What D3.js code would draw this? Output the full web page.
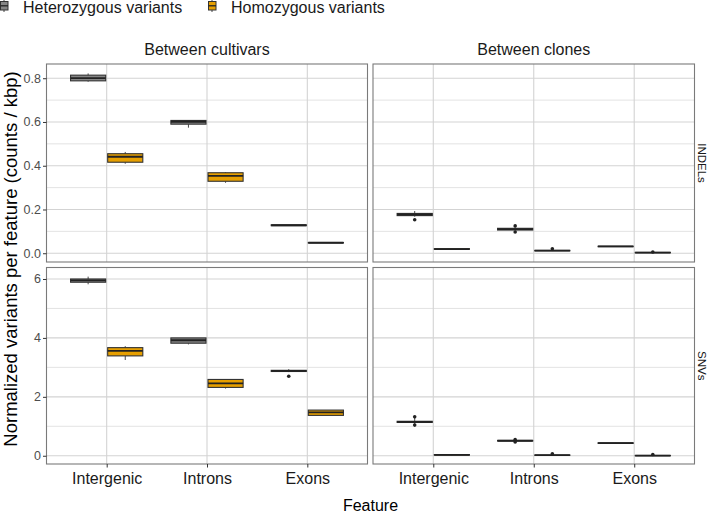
<!DOCTYPE html>
<html><head><meta charset="utf-8">
<script src="https://cdn.jsdelivr.net/npm/d3@7"></script>
<style>body{margin:0;background:#fff}svg{display:block;font-family:"Liberation Sans",Arial,Helvetica,sans-serif}</style>
</head><body><svg id="c" width="709" height="515"></svg>
<script>
const features = ["Intergenic", "Introns", "Exons"];
const comparisons = ["Between cultivars", "Between clones"];
const variantTypes = ["INDELs", "SNVs"];
const zygosity = ["Heterozygous variants", "Homozygous variants"];
const indelTicks = [0, 0.2, 0.4, 0.6, 0.8];
const snvTicks = [0, 2, 4, 6];

// [lower whisker, Q1, median, Q3, upper whisker] for each feature
const indelCultivarHet = [[0.784,0.788,0.800,0.814,0.822],[0.574,0.590,0.601,0.607,0.607],[0.126,0.126,0.128,0.130,0.130]];
const indelCultivarHom = [[0.409,0.416,0.441,0.455,0.463],[0.322,0.329,0.354,0.368,0.371],[0.047,0.047,0.048,0.049,0.049]];
const indelCloneHet = [[0.167,0.172,0.177,0.182,0.193],[0.104,0.106,0.110,0.114,0.118],[0.030,0.030,0.031,0.032,0.032]];
const indelCloneHom = [[0.017,0.018,0.019,0.021,0.022],[0.010,0.011,0.012,0.013,0.014],[0.002,0.002,0.003,0.004,0.004]];
const snvCultivarHet = [[5.82,5.89,5.95,6.00,6.08],[3.78,3.82,3.92,4.00,4.00],[2.84,2.86,2.88,2.90,2.94]];
const snvCultivarHom = [[3.25,3.39,3.56,3.67,3.72],[2.28,2.32,2.46,2.59,2.59],[1.37,1.37,1.47,1.55,1.55]];
const snvCloneHet = [[1.08,1.13,1.15,1.17,1.28],[0.48,0.50,0.51,0.52,0.54],[0.41,0.42,0.43,0.44,0.45]];
const snvCloneHom = [[0.01,0.02,0.03,0.04,0.04],[0.01,0.015,0.02,0.025,0.03],[0.0,0.0,0.005,0.01,0.015]];

// outlier points per feature
const indelCloneHetOut = [[0.153],[0.125,0.097],[]];
const indelCloneHomOut = [[],[0.020],[0.006]];
const snvCultivarHetOut = [[],[],[2.70]];
const snvCloneHetOut = [[1.32,1.04],[0.55,0.47],[]];
const snvCloneHomOut = [[],[0.07],[0.04]];
const none = [[],[],[]];

const fills = ["#858585", "#E69F00"];

const panels = [
  {row:0,col:0,stats:[indelCultivarHet,indelCultivarHom],out:[none,none]},
  {row:0,col:1,stats:[indelCloneHet,indelCloneHom],out:[indelCloneHetOut,indelCloneHomOut]},
  {row:1,col:0,stats:[snvCultivarHet,snvCultivarHom],out:[snvCultivarHetOut,none]},
  {row:1,col:1,stats:[snvCloneHet,snvCloneHom],out:[snvCloneHetOut,snvCloneHomOut]}
];

const svg = d3.select("#c");
const colX = [[46.5,367.5],[373,694.5]];
const rowY = [[64,262],[267.5,464]];
const yDomains = [[-0.040,0.865],[-0.28,6.39]];
const majorTicks = [indelTicks, snvTicks];
const minorTicks = [[0.1,0.3,0.5,0.7],[1,3,5]];
const fmt = [d3.format(".1f"), d3.format("d")];

const xScales = colX.map(r => d3.scalePoint().domain(features).range(r).padding(0.6));
const yScales = rowY.map((r,i) => d3.scaleLinear().domain(yDomains[i]).range([r[1], r[0]]));

// panels background + grid
for (let r=0;r<2;r++) for (let c=0;c<2;c++) {
  const x = xScales[c], y = yScales[r];
  const g = svg.append("g");
  g.append("rect").attr("x",colX[c][0]).attr("y",rowY[r][0]).attr("width",colX[c][1]-colX[c][0]).attr("height",rowY[r][1]-rowY[r][0]).attr("fill","#fff");
  g.selectAll(".mn").data(minorTicks[r]).join("line")
    .attr("x1",colX[c][0]).attr("x2",colX[c][1]).attr("y1",d=>y(d)).attr("y2",d=>y(d))
    .attr("stroke","#dcdcdc").attr("stroke-width",0.8);
  g.selectAll(".mj").data(majorTicks[r]).join("line")
    .attr("x1",colX[c][0]).attr("x2",colX[c][1]).attr("y1",d=>y(d)).attr("y2",d=>y(d))
    .attr("stroke","#d3d3d3").attr("stroke-width",1.1);
  g.selectAll(".vx").data(features).join("line")
    .attr("x1",d=>x(d)).attr("x2",d=>x(d)).attr("y1",rowY[r][0]).attr("y2",rowY[r][1])
    .attr("stroke","#d3d3d3").attr("stroke-width",1.1);
}

// boxes
panels.forEach(p => {
  const x = xScales[p.col], y = yScales[p.row];
  const step = x.step();
  const bw = step*0.35;
  const g = svg.append("g");
  p.stats.forEach((series, si) => {
    const off = (si===0 ? -1 : 1) * step*0.185;
    series.forEach((s, fi) => {
      const cx = x(features[fi]) + off;
      g.append("line").attr("x1",cx).attr("x2",cx).attr("y1",y(s[0])).attr("y2",y(s[1])).attr("stroke","#333").attr("stroke-width",0.9);
      g.append("line").attr("x1",cx).attr("x2",cx).attr("y1",y(s[3])).attr("y2",y(s[4])).attr("stroke","#333").attr("stroke-width",0.9);
      g.append("rect").attr("x",cx-bw/2).attr("width",bw)
        .attr("y",y(s[3])).attr("height",Math.max(0.01,y(s[1])-y(s[3])))
        .attr("fill",fills[si]).attr("stroke","#333").attr("stroke-width",1.1);
      g.append("line").attr("x1",cx-bw/2).attr("x2",cx+bw/2).attr("y1",y(s[2])).attr("y2",y(s[2])).attr("stroke","#222").attr("stroke-width",1.8);
      p.out[si][fi].forEach(v => {
        g.append("circle").attr("cx",cx).attr("cy",y(v)).attr("r",1.8).attr("fill","#222");
      });
    });
  });
});

// panel borders
for (let r=0;r<2;r++) for (let c=0;c<2;c++) {
  svg.append("rect").attr("x",colX[c][0]).attr("y",rowY[r][0]).attr("width",colX[c][1]-colX[c][0]).attr("height",rowY[r][1]-rowY[r][0])
    .attr("fill","none").attr("stroke","#7a7a7a").attr("stroke-width",1.1);
}

// y axes (left column only)
for (let r=0;r<2;r++) {
  const ax = d3.axisLeft(yScales[r]).tickValues(majorTicks[r]).tickFormat(fmt[r]).tickSize(3.5).tickPadding(2);
  const g = svg.append("g").attr("transform",`translate(${colX[0][0]},0)`).call(ax);
  g.select(".domain").remove();
  g.selectAll(".tick line").attr("stroke","#333");
  g.selectAll(".tick text").attr("fill","#4d4d4d").attr("font-size","12.5px").attr("font-family","Liberation Sans, Arial, sans-serif");
}

// x axes (bottom row only)
for (let c=0;c<2;c++) {
  const ax = d3.axisBottom(xScales[c]).tickSize(3.5).tickPadding(5);
  const g = svg.append("g").attr("transform",`translate(0,${rowY[1][1]})`).call(ax);
  g.select(".domain").remove();
  g.selectAll(".tick line").attr("stroke","#333");
  g.selectAll(".tick text").attr("fill","#1a1a1a").attr("font-size","16px").attr("font-family","Liberation Sans, Arial, sans-serif");
}

// strips
comparisons.forEach((t,c) => {
  svg.append("text").attr("x",(colX[c][0]+colX[c][1])/2).attr("y",55).attr("text-anchor","middle")
    .attr("font-size","16px").attr("fill","#1a1a1a").text(t);
});
variantTypes.forEach((t,r) => {
  const cy = (rowY[r][0]+rowY[r][1])/2;
  svg.append("text").attr("transform",`translate(702,${cy}) rotate(90)`).attr("text-anchor","middle")
    .attr("dominant-baseline","central")
    .attr("font-size","11.5px").attr("fill","#1a1a1a").text(t);
});

// axis titles
svg.append("text").attr("transform",`translate(17,259) rotate(-90)`).attr("text-anchor","middle")
  .attr("font-size","18.5px").attr("fill","#000").text("Normalized variants per feature (counts / kbp)");
svg.append("text").attr("x",(colX[0][0]+colX[1][1])/2).attr("y",511).attr("text-anchor","middle")
  .attr("font-size","16px").attr("fill","#000").text("Feature");

// legend
const legX = [0, 208];
zygosity.forEach((t,i) => {
  const g = svg.append("g").attr("transform",`translate(${legX[i]},0)`);
  g.append("line").attr("x1",4).attr("x2",4).attr("y1",-2).attr("y2",12).attr("stroke","#333").attr("stroke-width",0.9);
  g.append("rect").attr("x",0.5).attr("y",1.5).attr("width",7.5).attr("height",8.5).attr("fill",fills[i]).attr("stroke","#333").attr("stroke-width",1);
  g.append("line").attr("x1",0.5).attr("x2",8).attr("y1",5.8).attr("y2",5.8).attr("stroke","#222").attr("stroke-width",1.3);
  g.append("text").attr("x",23).attr("y",13).attr("font-size","16px").attr("fill","#1a1a1a").text(t);
});
</script></body></html>
